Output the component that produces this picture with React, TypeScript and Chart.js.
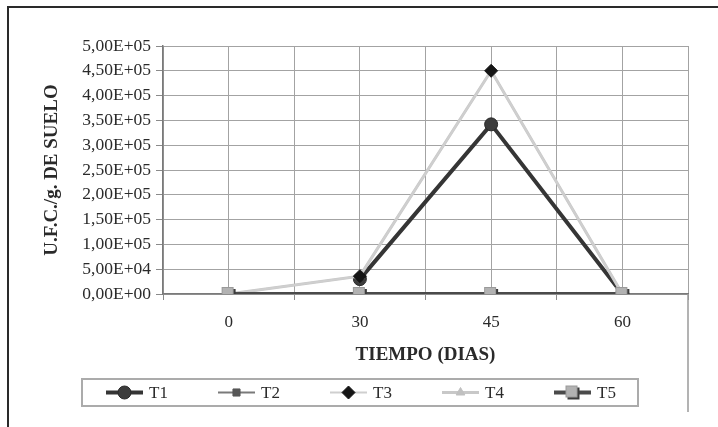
import React, { useEffect, useRef } from 'react';
import { Chart, registerables } from 'chart.js';

Chart.register(...registerables);

const categories = ['0', '30', '45', '60'];
const seriesNames = ['T1', 'T2', 'T3', 'T4', 'T5'];
const t1: (number | null)[] = [null, 30000, 342000, 0];
const t2: number[] = [0, 0, 0, 0];
const t3: number[] = [0, 36000, 450000, 0];
const t4: number[] = [0, 36000, 450000, 0];
const t5: number[] = [0, 0, 0, 0];
const yMin = 0;
const yMax = 500000;
const yStep = 50000;

const FONT = '"Liberation Serif", "DejaVu Serif", serif';

function sci(v: number): string {
  if (v === 0) return '0,00E+00';
  const exp = Math.floor(Math.log10(Math.abs(v)) + 1e-9);
  const mant = v / Math.pow(10, exp);
  const e = String(Math.abs(exp)).padStart(2, '0');
  return mant.toFixed(2).replace('.', ',') + 'E' + (exp < 0 ? '-' : '+') + e;
}

function makeShadowSquare(): HTMLCanvasElement {
  const c = document.createElement('canvas');
  c.width = 16;
  c.height = 16;
  const g = c.getContext('2d')!;
  g.fillStyle = '#3c3c3c';
  g.fillRect(3, 3, 12, 12);
  g.fillStyle = '#b2b2b2';
  g.fillRect(1, 1, 12, 12);
  g.strokeStyle = '#9a9a9a';
  g.lineWidth = 1;
  g.strokeRect(1.5, 1.5, 11, 11);
  return c;
}

function drawMarker(ctx: CanvasRenderingContext2D, ds: any, x: number, y: number) {
  const style = ds.pointStyle;
  const r = ds.pointRadius;
  ctx.save();
  if (style instanceof HTMLCanvasElement) {
    ctx.drawImage(style, x - style.width / 2, y - style.height / 2);
    ctx.restore();
    return;
  }
  ctx.fillStyle = ds.pointBackgroundColor;
  ctx.strokeStyle = ds.pointBorderColor;
  ctx.lineWidth = ds.pointBorderWidth || 1;
  ctx.beginPath();
  if (style === 'circle') {
    ctx.arc(x, y, r, 0, Math.PI * 2);
  } else if (style === 'rect') {
    const s = r * Math.SQRT1_2;
    ctx.rect(x - s, y - s, 2 * s, 2 * s);
  } else if (style === 'rectRot') {
    ctx.moveTo(x, y - r);
    ctx.lineTo(x + r, y);
    ctx.lineTo(x, y + r);
    ctx.lineTo(x - r, y);
    ctx.closePath();
  } else if (style === 'triangle') {
    ctx.moveTo(x, y - r);
    ctx.lineTo(x + r * 0.87, y + r * 0.5);
    ctx.lineTo(x - r * 0.87, y + r * 0.5);
    ctx.closePath();
  }
  ctx.fill();
  ctx.stroke();
  ctx.restore();
}

const legendPlugin = {
  id: 'customLegend',
  afterDraw(chart: any) {
    const ctx: CanvasRenderingContext2D = chart.ctx;
    const area = chart.chartArea;
    ctx.save();
    ctx.strokeStyle = '#9a9a9a';
    ctx.lineWidth = 1.5;
    ctx.beginPath();
    ctx.moveTo(area.right, area.bottom);
    ctx.lineTo(area.right, 412);
    ctx.stroke();
    ctx.strokeStyle = '#ababab';
    ctx.lineWidth = 2;
    ctx.strokeRect(82, 379, 556, 27);
    const y = 392.5;
    chart.data.datasets.forEach((ds: any, i: number) => {
      const x0 = 106 + i * 112;
      ctx.strokeStyle = ds.borderColor;
      ctx.lineWidth = ds.borderWidth;
      ctx.beginPath();
      ctx.moveTo(x0, y);
      ctx.lineTo(x0 + 37, y);
      ctx.stroke();
      drawMarker(ctx, ds, x0 + 18.5, y);
      ctx.fillStyle = '#2a2a2a';
      ctx.font = '17px ' + FONT;
      ctx.textAlign = 'left';
      ctx.textBaseline = 'middle';
      ctx.fillText(ds.label, x0 + 43, y + 1);
    });
    ctx.restore();
  },
};

export default function App() {
  const ref = useRef<HTMLCanvasElement | null>(null);
  useEffect(() => {
    if (!ref.current) return;
    const toPts = (arr: (number | null)[]) => arr.map((v, i) => ({ x: i, y: v }));
    const shadowSquare = makeShadowSquare();
    const chart = new Chart(ref.current, {
      type: 'line',
      data: {
        datasets: [
          {
            label: seriesNames[0],
            data: toPts(t1) as any,
            borderColor: '#353535',
            borderWidth: 4,
            pointStyle: 'circle',
            pointRadius: 6.5,
            pointBackgroundColor: '#3c3c3c',
            pointBorderColor: '#2a2a2a',
            pointBorderWidth: 1,
            order: 5,
            spanGaps: false,
          },
          {
            label: seriesNames[1],
            data: toPts(t2) as any,
            borderColor: '#7a7a7a',
            borderWidth: 2,
            pointStyle: 'rect',
            pointRadius: 5,
            pointBackgroundColor: '#575757',
            pointBorderColor: '#575757',
            pointBorderWidth: 1,
            order: 4,
          },
          {
            label: seriesNames[2],
            data: toPts(t3) as any,
            borderColor: '#cfcfcf',
            borderWidth: 2,
            pointStyle: 'rectRot',
            pointRadius: 6.5,
            pointBackgroundColor: '#151515',
            pointBorderColor: '#151515',
            pointBorderWidth: 1,
            order: 2,
          },
          {
            label: seriesNames[3],
            data: toPts(t4) as any,
            borderColor: '#c8c8c8',
            borderWidth: 3,
            pointStyle: 'triangle',
            pointRadius: 5,
            pointBackgroundColor: '#c0c0c0',
            pointBorderColor: '#c0c0c0',
            pointBorderWidth: 1,
            order: 3,
          },
          {
            label: seriesNames[4],
            data: toPts(t5) as any,
            borderColor: '#4a4a4a',
            borderWidth: 4,
            pointStyle: shadowSquare as any,
            pointRadius: 7,
            pointBackgroundColor: '#b2b2b2',
            pointBorderColor: '#3c3c3c',
            pointBorderWidth: 1,
            order: 1,
          },
        ],
      },
      options: {
        animation: false,
        responsive: false,
        events: [],
        layout: { padding: { left: 41, top: 46, right: 30, bottom: 60 } },
        elements: { line: { tension: 0 } },
        plugins: {
          legend: { display: false },
          tooltip: { enabled: false },
        },
        scales: {
          x: {
            type: 'linear',
            min: -0.5,
            max: categories.length - 0.5,
            afterFit: (scale: any) => {
              scale.height = 73;
            },
            afterBuildTicks: (scale: any) => {
              const ticks = [];
              for (let v = -0.5; v <= categories.length - 0.5 + 1e-9; v += 0.5) ticks.push({ value: v });
              scale.ticks = ticks;
            },
            grid: {
              color: '#a3a3a3',
              lineWidth: 1,
              drawTicks: true,
              tickLength: 6,
              tickColor: (ctx: any) => {
                const v = ctx.tick ? ctx.tick.value : 0;
                return Math.abs(v - Math.round(v)) < 1e-6 ? 'rgba(0,0,0,0)' : '#8a8a8a';
              },
            },
            border: { color: '#7a7a7a', width: 1.5 },
            ticks: {
              autoSkip: false,
              maxRotation: 0,
              padding: 12,
              color: '#2a2a2a',
              font: { family: FONT, size: 17 },
              callback: (value: any) => {
                const v = Number(value);
                const r = Math.round(v);
                return Math.abs(v - r) < 1e-6 && categories[r] !== undefined ? categories[r] : '';
              },
            },
            title: {
              display: true,
              text: 'TIEMPO (DIAS)',
              color: '#2a2a2a',
              font: { family: FONT, size: 19, weight: 'bold' },
              padding: { top: 0, bottom: 1 },
            },
          },
          y: {
            type: 'linear',
            min: yMin,
            max: yMax,
            afterFit: (scale: any) => {
              scale.width = 122;
            },
            ticks: {
              stepSize: yStep,
              padding: 5,
              color: '#2a2a2a',
              font: { family: FONT, size: 17.5 },
              callback: (value: any) => sci(Number(value)),
            },
            grid: {
              color: '#a3a3a3',
              lineWidth: 1,
              drawTicks: true,
              tickLength: 7,
              tickColor: '#8a8a8a',
            },
            border: { color: '#7a7a7a', width: 1.5 },
            title: {
              display: true,
              text: 'U.F.C./g. DE SUELO',
              color: '#2a2a2a',
              font: { family: FONT, size: 19, weight: 'bold' },
              padding: 0,
            },
          },
        },
      },
      plugins: [legendPlugin],
    });
    return () => chart.destroy();
  }, []);

  return (
    <div>
      <div
        style={{
          position: 'fixed',
          left: 7,
          top: 6,
          width: 800,
          height: 600,
          borderLeft: '2px solid #2a2a2a',
          borderTop: '2px solid #2a2a2a',
          boxSizing: 'border-box',
        }}
      />
      <canvas
        ref={ref}
        width={718}
        height={427}
        style={{ position: 'fixed', left: 0, top: 0, width: 718, height: 427 }}
      />
    </div>
  );
}
